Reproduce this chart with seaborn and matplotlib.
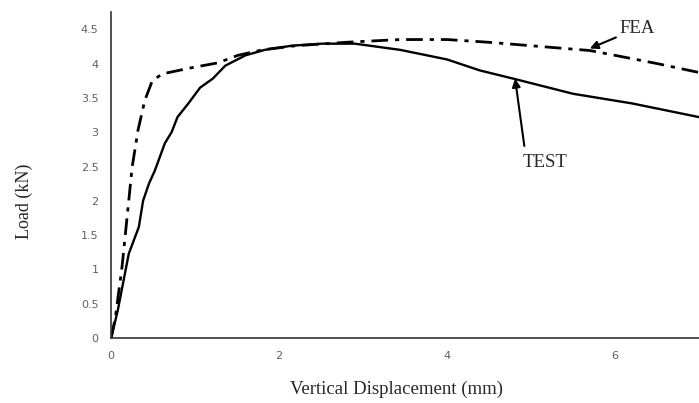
import pandas as pd
import matplotlib.pyplot as plt
import seaborn as sns

# TEST curve
test_x = [0, 0.08, 0.21, 0.33, 0.38, 0.45, 0.52, 0.64, 0.72, 0.79, 0.92, 1.06, 1.21, 1.36,
          1.6, 1.83, 2.15, 2.51, 2.9, 3.44, 4.0, 4.39, 4.79, 5.5, 6.2, 7.0]
test_y = [0, 0.41, 1.23, 1.62, 2.0, 2.25, 2.44, 2.84, 3.0, 3.22, 3.42, 3.65, 3.78, 3.97,
          4.12, 4.2, 4.26, 4.29, 4.29, 4.2, 4.06, 3.9, 3.78, 3.56, 3.42, 3.22]

# FEA curve
fea_x = [0, 0.05, 0.13, 0.25, 0.32, 0.40, 0.49, 0.61, 0.96, 1.27, 1.51, 1.8, 2.2, 2.8,
         3.44, 4.0, 4.5, 5.0, 5.7, 6.0, 6.5, 7.0]
fea_y = [0, 0.3, 1.04, 2.49, 3.03, 3.46, 3.75, 3.85, 3.94, 4.01, 4.12, 4.2, 4.26, 4.31,
         4.35, 4.35, 4.31, 4.26, 4.19, 4.12, 4.0, 3.87]

y_ticks = [0, 0.5, 1, 1.5, 2, 2.5, 3, 3.5, 4, 4.5]
y_tick_labels = ['0', '0.5', '1', '1.5', '2', '2.5', '3', '3.5', '4', '4.5']
x_ticks = [0, 2, 4, 6]

df_test = pd.DataFrame({'x': test_x, 'y': test_y})
df_fea = pd.DataFrame({'x': fea_x, 'y': fea_y})

sns.set_style('white')

fig = plt.figure(figsize=(6.99, 4.03), dpi=100)
ax = fig.add_axes([0.159, 0.161, 0.841, 0.809])

sns.lineplot(data=df_fea, x='x', y='y', sort=False, ax=ax, color='black',
             linewidth=2, linestyle=(0, (6, 2.5, 1.5, 2.5)))
sns.lineplot(data=df_test, x='x', y='y', sort=False, ax=ax, color='black', linewidth=1.7)

ax.set_xlim(0, 7)
ax.set_ylim(0, 4.75)
ax.set_xticks(x_ticks)
ax.set_xticklabels([str(t) for t in x_ticks])
ax.set_yticks(y_ticks)
ax.set_yticklabels(y_tick_labels)
ax.tick_params(axis='both', length=0, labelsize=8, colors='#606060')
ax.tick_params(axis='x', pad=9)
ax.tick_params(axis='y', pad=9)

for s in ['top', 'right']:
    ax.spines[s].set_visible(False)
for s in ['left', 'bottom']:
    ax.spines[s].set_color('#333333')
    ax.spines[s].set_linewidth(1.2)

serif = ['Liberation Serif', 'DejaVu Serif']
ax.set_xlabel('Vertical Displacement (mm)', family=serif, fontsize=13.5, va='center')
ax.set_ylabel('Load (kN)', family=serif, fontsize=13, va='center')
ax.xaxis.set_label_coords(0.485, -0.156)
ax.yaxis.set_label_coords(-0.148, 0.42)

# annotations
ax.annotate('FEA', xy=(5.70, 4.22), xytext=(6.05, 4.51), family=serif, fontsize=13.5,
            ha='left', va='center',
            arrowprops=dict(arrowstyle='-|>', color='black', lw=1.5, mutation_scale=12,
                            shrinkA=0, shrinkB=0))
ax.annotate('', xy=(4.81, 3.78), xytext=(4.92, 2.80),
            arrowprops=dict(arrowstyle='-|>', color='black', lw=1.5, mutation_scale=12,
                            shrinkA=0, shrinkB=0))
ax.text(5.17, 2.56, 'TEST', family=serif, fontsize=13.5, ha='center', va='center')

fig.savefig('out.png', dpi=100)
